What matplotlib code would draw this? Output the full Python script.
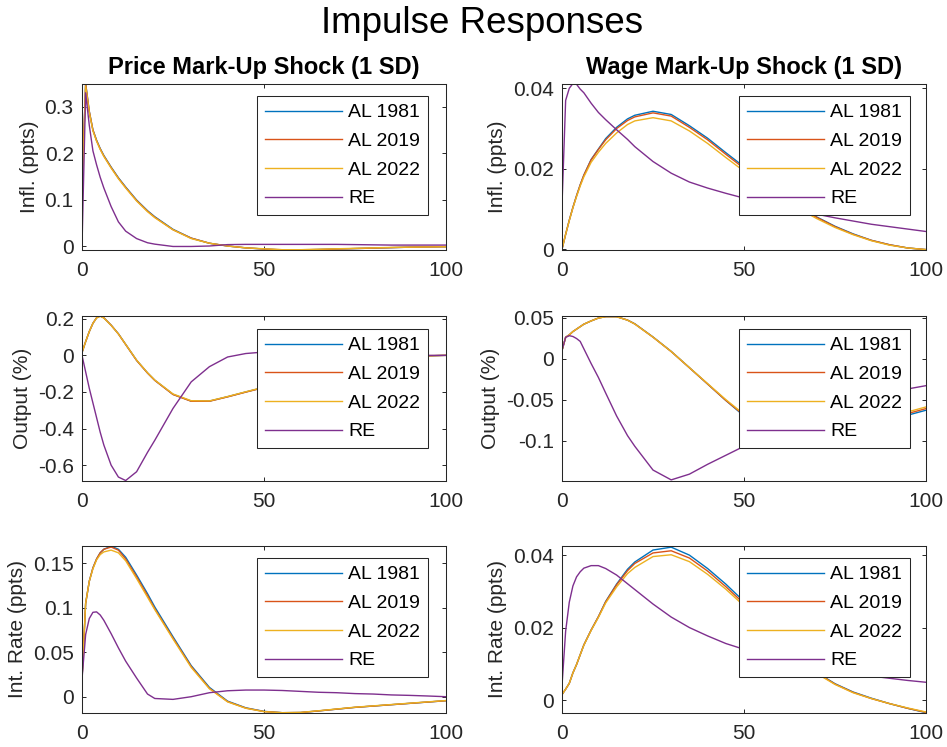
import matplotlib.pyplot as plt
import numpy as np

plt.rcParams['font.family'] = ['Liberation Sans', 'DejaVu Sans']

# horizons (quarters)
h = [0, 1, 2, 3, 4, 5, 6, 8, 10, 12, 15, 18, 20, 25, 30, 35, 40, 45, 50,
     55, 60, 65, 70, 75, 80, 85, 90, 95, 100]

labels = ['AL 1981', 'AL 2019', 'AL 2022', 'RE']
colors = ['#0072BD', '#D95319', '#EDB120', '#7E2F8E']

# price mark-up shock: inflation
p_infl_1981 = [0.12, 0.35, 0.29, 0.25, 0.228, 0.21, 0.195, 0.17, 0.147, 0.127, 0.099, 0.076, 0.063, 0.036,
               0.017, 0.006, 0.0, -0.004, -0.0065, -0.0085, -0.0085, -0.0075, -0.0065, -0.0055, -0.0045,
               -0.0035, -0.0025, -0.002, -0.0015]
p_infl_2019 = [0.12, 0.35, 0.29, 0.25, 0.227, 0.209, 0.194, 0.169, 0.146, 0.126, 0.098, 0.075, 0.062, 0.035,
               0.017, 0.006, 0.0, -0.004, -0.0065, -0.008, -0.008, -0.0075, -0.0065, -0.0055, -0.0045,
               -0.0035, -0.0025, -0.002, -0.0015]
p_infl_2022 = [0.12, 0.345, 0.288, 0.248, 0.226, 0.208, 0.193, 0.168, 0.145, 0.125, 0.097, 0.074, 0.061, 0.035,
               0.016, 0.006, 0.0, -0.004, -0.006, -0.008, -0.008, -0.007, -0.006, -0.005, -0.004,
               -0.003, -0.0025, -0.002, -0.0015]
p_infl_re = [0.0, 0.33, 0.26, 0.205, 0.175, 0.148, 0.125, 0.085, 0.052, 0.032, 0.016, 0.007, 0.004, -0.001,
             -0.001, 0.0, 0.003, 0.0035, 0.0035, 0.0035, 0.0035, 0.0035, 0.0035, 0.003, 0.0025,
             0.002, 0.002, 0.002, 0.002]

# wage mark-up shock: inflation
w_infl_1981 = [0.0, 0.0037, 0.0072, 0.0104, 0.0133, 0.016, 0.0184, 0.0223, 0.0249, 0.0275, 0.0303, 0.0324,
               0.0333, 0.0343, 0.0335, 0.0307, 0.0276, 0.024, 0.0205, 0.017, 0.0136, 0.0106, 0.008, 0.0057,
               0.0038, 0.0022, 0.0011, 0.0003, -0.0001]
w_infl_2019 = [0.0, 0.0037, 0.0072, 0.0104, 0.0133, 0.016, 0.0184, 0.0222, 0.0248, 0.0272, 0.03, 0.032,
               0.0329, 0.0339, 0.0331, 0.0303, 0.0272, 0.0236, 0.0201, 0.0167, 0.0134, 0.0104, 0.0079, 0.0056,
               0.0037, 0.0022, 0.0011, 0.0003, -0.0001]
w_infl_2022 = [0.0, 0.0037, 0.0071, 0.0103, 0.0131, 0.0157, 0.018, 0.0216, 0.0241, 0.0263, 0.0289, 0.031,
               0.0319, 0.0327, 0.0319, 0.0294, 0.0263, 0.0228, 0.0194, 0.0161, 0.0129, 0.0101, 0.0076, 0.0054,
               0.0036, 0.0021, 0.001, 0.0003, -0.0001]
w_infl_re = [0.011, 0.037, 0.040, 0.0412, 0.041, 0.0398, 0.0389, 0.0363, 0.034, 0.0322, 0.0297, 0.0273,
             0.0255, 0.0218, 0.0189, 0.0167, 0.0152, 0.0139, 0.0127, 0.0116, 0.0106, 0.0096, 0.0087, 0.0078,
             0.007, 0.0062, 0.0056, 0.005, 0.0044]

# price mark-up shock: output
p_out_1981 = [0.015, 0.075, 0.13, 0.175, 0.205, 0.215, 0.205, 0.165, 0.118, 0.06, -0.027, -0.096, -0.136,
              -0.213, -0.25, -0.25, -0.226, -0.2, -0.175, -0.148, -0.12, -0.093, -0.068, -0.047, -0.03,
              -0.017, -0.008, -0.003, 0.0]
p_out_2019 = [0.015, 0.075, 0.13, 0.175, 0.205, 0.215, 0.205, 0.165, 0.117, 0.059, -0.028, -0.097, -0.137,
              -0.214, -0.251, -0.251, -0.227, -0.201, -0.176, -0.149, -0.121, -0.094, -0.069, -0.048, -0.031,
              -0.018, -0.009, -0.003, 0.0]
p_out_2022 = [0.015, 0.075, 0.13, 0.175, 0.204, 0.214, 0.204, 0.164, 0.117, 0.06, -0.026, -0.095, -0.135,
              -0.211, -0.248, -0.249, -0.225, -0.199, -0.174, -0.147, -0.119, -0.092, -0.067, -0.046, -0.029,
              -0.016, -0.007, -0.002, 0.0]
p_out_re = [0.0, -0.09, -0.18, -0.26, -0.34, -0.42, -0.49, -0.6, -0.665, -0.684, -0.636, -0.53, -0.464, -0.29,
            -0.145, -0.062, -0.009, 0.01, 0.018, 0.02, 0.017, 0.013, 0.009, 0.006, 0.003, 0.001, 0.0, 0.0, 0.0]

# wage mark-up shock: output
w_out_1981 = [0.01, 0.026, 0.029, 0.033, 0.036, 0.039, 0.042, 0.046, 0.0495, 0.0512, 0.0512, 0.047, 0.0425,
              0.0264, 0.0088, -0.011, -0.031, -0.051, -0.07, -0.083, -0.091, -0.095, -0.095, -0.093, -0.088,
              -0.082, -0.075, -0.069, -0.063]
w_out_2019 = [0.01, 0.026, 0.029, 0.033, 0.036, 0.039, 0.042, 0.046, 0.0495, 0.0512, 0.0512, 0.047, 0.0423,
              0.0262, 0.0086, -0.0112, -0.031, -0.051, -0.069, -0.082, -0.09, -0.094, -0.094, -0.092, -0.087,
              -0.081, -0.074, -0.067, -0.061]
w_out_2022 = [0.01, 0.026, 0.029, 0.033, 0.036, 0.039, 0.042, 0.046, 0.0495, 0.0512, 0.0511, 0.0469, 0.0422,
              0.0262, 0.0087, -0.011, -0.0305, -0.05, -0.068, -0.081, -0.089, -0.093, -0.093, -0.09, -0.085,
              -0.079, -0.072, -0.065, -0.059]
w_out_re = [0.01, 0.026, 0.028, 0.027, 0.0245, 0.021, 0.012, -0.006, -0.023, -0.042, -0.07, -0.094, -0.107,
            -0.136, -0.148, -0.141, -0.129, -0.118, -0.107, -0.097, -0.087, -0.078, -0.069, -0.061, -0.054,
            -0.048, -0.042, -0.037, -0.033]

# price mark-up shock: interest rate
p_rate_1981 = [0.02, 0.105, 0.13, 0.145, 0.155, 0.162, 0.166, 0.1695, 0.166, 0.157, 0.137, 0.116, 0.101,
               0.0675, 0.035, 0.0105, -0.005, -0.0125, -0.0165, -0.018, -0.0178, -0.016, -0.014, -0.012,
               -0.0105, -0.009, -0.0075, -0.006, -0.0045]
p_rate_2019 = [0.02, 0.105, 0.13, 0.145, 0.155, 0.162, 0.166, 0.1685, 0.165, 0.155, 0.135, 0.114, 0.099,
               0.066, 0.034, 0.0095, -0.0055, -0.0128, -0.0167, -0.018, -0.0178, -0.016, -0.014, -0.012,
               -0.0105, -0.009, -0.0075, -0.006, -0.0045]
p_rate_2022 = [0.02, 0.105, 0.13, 0.144, 0.154, 0.16, 0.163, 0.165, 0.162, 0.153, 0.133, 0.112, 0.098,
               0.065, 0.033, 0.009, -0.0058, -0.013, -0.0168, -0.018, -0.0177, -0.0158, -0.0138, -0.0118,
               -0.0103, -0.0088, -0.0073, -0.0058, -0.0043]
p_rate_re = [0.02, 0.07, 0.088, 0.095, 0.0955, 0.092, 0.086, 0.071, 0.055, 0.04, 0.021, 0.003, -0.002,
             -0.003, 0.0, 0.0045, 0.0067, 0.0075, 0.0075, 0.007, 0.006, 0.005, 0.0045, 0.0035, 0.003,
             0.002, 0.0015, 0.0008, 0.0]

# wage mark-up shock: interest rate
w_rate_1981 = [0.0015, 0.003, 0.0046, 0.0075, 0.0098, 0.0125, 0.0152, 0.0193, 0.023, 0.0272, 0.032, 0.0361,
               0.0381, 0.0414, 0.0422, 0.04, 0.0363, 0.032, 0.0272, 0.0222, 0.0168, 0.0117, 0.0076, 0.0045,
               0.0022, 0.0005, -0.001, -0.0023, -0.0035]
w_rate_2019 = [0.0015, 0.003, 0.0046, 0.0075, 0.0098, 0.0125, 0.0152, 0.0193, 0.023, 0.0271, 0.0318, 0.0357,
               0.0377, 0.0406, 0.0412, 0.0392, 0.0356, 0.0313, 0.0266, 0.0217, 0.0165, 0.0115, 0.0075, 0.0044,
               0.0021, 0.0004, -0.001, -0.0023, -0.0034]
w_rate_2022 = [0.0015, 0.003, 0.0046, 0.0075, 0.0098, 0.0125, 0.0151, 0.0192, 0.0228, 0.0268, 0.0312, 0.0349,
               0.0366, 0.0396, 0.0401, 0.0382, 0.0347, 0.0306, 0.026, 0.0212, 0.0161, 0.0112, 0.0073, 0.0043,
               0.002, 0.0004, -0.001, -0.0022, -0.0033]
w_rate_re = [0.004, 0.019, 0.027, 0.0315, 0.034, 0.0354, 0.0364, 0.0371, 0.0371, 0.0363, 0.0345, 0.0321,
             0.0305, 0.0265, 0.0229, 0.02, 0.0177, 0.0156, 0.014, 0.0125, 0.0113, 0.0101, 0.0091, 0.0082,
             0.0074, 0.0066, 0.006, 0.0054, 0.0049]

panels = [
    [p_infl_1981, p_infl_2019, p_infl_2022, p_infl_re],
    [w_infl_1981, w_infl_2019, w_infl_2022, w_infl_re],
    [p_out_1981, p_out_2019, p_out_2022, p_out_re],
    [w_out_1981, w_out_2019, w_out_2022, w_out_re],
    [p_rate_1981, p_rate_2019, p_rate_2022, p_rate_re],
    [w_rate_1981, w_rate_2019, w_rate_2022, w_rate_re],
]
ylabels = ['Infl. (ppts)', 'Infl. (ppts)', 'Output (%)', 'Output (%)',
           'Int. Rate (ppts)', 'Int. Rate (ppts)']
ylims = [(-0.0086, 0.35), (-0.0002, 0.0412), (-0.685, 0.215),
         (-0.149, 0.052), (-0.018, 0.170), (-0.0035, 0.0426)]
yticks = [[0, 0.1, 0.2, 0.3], [0, 0.02, 0.04], [-0.6, -0.4, -0.2, 0, 0.2],
          [-0.1, -0.05, 0, 0.05], [0, 0.05, 0.1, 0.15], [0, 0.02, 0.04]]
yticklabels = [['0', '0.1', '0.2', '0.3'], ['0', '0.02', '0.04'],
               ['-0.6', '-0.4', '-0.2', '0', '0.2'], ['-0.1', '-0.05', '0', '0.05'],
               ['0', '0.05', '0.1', '0.15'], ['0', '0.02', '0.04']]

W, H = 947, 747
fig = plt.figure(figsize=(W / 100, H / 100), dpi=100)

col_left = [82, 562]
col_width = 364
row_top = [83.5, 316, 545.7]
row_bottom = [250, 480.7, 712.7]
leg_right = [428, 910]
leg_top = [96, 329, 558]
gray = '#262626'

for i, series in enumerate(panels):
    r, c = divmod(i, 2)
    ax = fig.add_axes([col_left[c] / W, 1 - row_bottom[r] / H,
                       col_width / W, (row_bottom[r] - row_top[r]) / H])
    for k in range(4):
        ax.plot(h, series[k], color=colors[k], lw=1.0, label=labels[k])
    ax.set_xlim(0, 100)
    ax.set_ylim(*ylims[i])
    ax.set_xticks([0, 50, 100])
    ax.set_xticklabels(['0', '50', '100'])
    ax.set_yticks(yticks[i])
    ax.set_yticklabels(yticklabels[i])
    ax.tick_params(direction='in', top=True, right=True, length=3, width=0.7,
                   labelsize=15, colors=gray)
    ax.tick_params(axis='x', pad=8)
    ax.tick_params(axis='y', pad=6)
    for s in ax.spines.values():
        s.set_color(gray)
        s.set_linewidth(0.75)
    ax.set_ylabel(ylabels[i], fontsize=15, color=gray, labelpad=4)
    if r == 0:
        ax.set_title(['Price Mark-Up Shock (1 SD)', 'Wage Mark-Up Shock (1 SD)'][c],
                     fontsize=17, fontweight='bold', pad=7)
    leg = ax.legend(loc='upper right',
                    bbox_to_anchor=(leg_right[c] / W, 1 - leg_top[r] / H),
                    bbox_transform=fig.transFigure, borderaxespad=0,
                    fontsize=14, handlelength=4.0, handletextpad=0.3,
                    borderpad=0.4, labelspacing=0.57, fancybox=False,
                    framealpha=1, edgecolor=gray)
    leg.get_frame().set_linewidth(0.75)
    for t in leg.get_texts():
        t.set_color('black')

fig.text(482 / W, 1 - 33 / H, 'Impulse Responses', fontsize=26.5,
         ha='center', va='baseline')

fig.savefig('out.png', dpi=100)
